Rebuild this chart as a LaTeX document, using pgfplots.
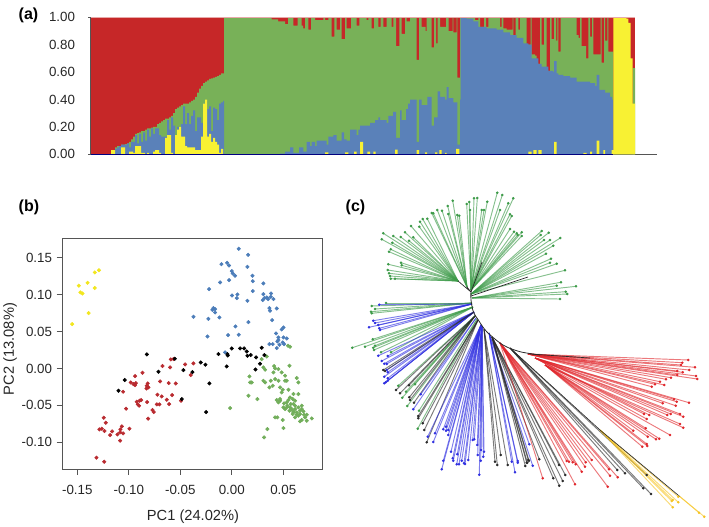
\documentclass[border=0pt]{standalone}
\usepackage{pgfplots}
\pgfplotsset{compat=1.18}
\usepackage{fontspec}
\setmainfont{Liberation Sans}
\definecolor{bred}{HTML}{C62728}
\definecolor{bgreen}{HTML}{78B158}
\definecolor{bblue}{HTML}{5A81B9}
\definecolor{byellow}{HTML}{F8F133}
\definecolor{dred}{HTML}{B92B30}
\definecolor{dgreen}{HTML}{72AE5B}
\definecolor{dblue}{HTML}{4C7DB9}
\definecolor{dyellow}{HTML}{F2E61E}
\definecolor{tgreen}{HTML}{3C9A48}
\definecolor{tblue}{HTML}{3030E0}
\definecolor{tred}{HTML}{E0262B}
\definecolor{tblack}{HTML}{2A2A2A}
\definecolor{tyellow}{HTML}{F6C422}
\definecolor{axgrey}{HTML}{555555}
\newcommand{\fan}[4]{%
  \addplot[draw=#1, line width=.7pt, draw opacity=.62, quiver={u={#2-x},v={#3-y}}] coordinates {#4};
  \addplot[only marks, mark=*, mark size=.75pt, color=#1] coordinates {#4};
}
\begin{document}
\begin{tikzpicture}
\path[use as bounding box] (0,0) rectangle (531.75pt,395.25pt);
% ---------- (a)
\begin{axis}[
  at={(68.25pt,279.5pt)}, anchor=south west, scale only axis,
  width=424.5pt, height=102.75pt,
  xmin=91, xmax=657, ymin=0, ymax=1,
  axis x line=bottom, axis y line=left,
  axis line style={-, color=axgrey, line width=.9pt},
  xtick=\empty,
  ytick={0,0.2,0.4,0.6,0.8,1},
  yticklabels={0.00,0.20,0.40,0.60,0.80,1.00},
  major tick length=0pt, yticklabel style={font=\fontsize{10}{12}\selectfont, text=black!85, xshift=-8.5pt},
  extra y ticks={0,1}, extra y tick labels={},
  extra tick style={major tick length=4.5pt, tick style={color=axgrey, line width=.9pt}},
  clip=false, axis on top=false,
]
\addplot[fill=bred, draw=none] coordinates {(91,1)(635,1)} \closedcycle;
\addplot[const plot mark left, fill=bgreen, draw=none] coordinates {
(91,0)(111,.01)(113,.03)(115,.05)(117,.06)(121,.07)(125,.075)(127,.08)(129,.09)(131,.11)(133,.13)(135,.15)(137,.155)(139,.16)(141,.17)(145,.18)(147,.19)(151,.195)(153,.20)(157,.22)(159,.23)(161,.24)(163,.25)(165,.26)(169,.27)(171,.28)(173,.30)(175,.33)(177,.34)(179,.35)(181,.36)(183,.37)(189,.38)(191,.39)(193,.40)(195,.42)(197,.45)(199,.48)(201,.50)(203,.52)(205,.53)(207,.54)(209,.55)(211,.555)(213,.56)(215,.565)(217,.57)(219,.58)(221,.59)
(224,1)(271.7,.985)(278,.97)(285,.95)(288,1)(293.3,.94)(297.7,1)(301.7,.94)(303,.92)(305,1)(308.3,.91)(311,1)(315,.98)(323.3,1)(325,.98)(328.3,1)(331.7,.86)(334.3,1)(336.7,.91)(340,1)(341.7,.84)(345,1)(346.7,.92)(351,1)(356.7,.94)(359.3,1)(366.7,.98)(368.3,1)(371.7,.92)(374,1)(378.3,.93)(380.7,1)(383.3,.93)(386.7,1)(391.7,.93)(393.3,1)(396,.79)(399.3,1)(401.7,.88)(405,1)(406.7,.97)(410,1)(416.7,.69)(419,1)(421.7,.93)(425.7,.90)(426.7,1)(431.7,.78)(434,1)(436,.81)(437.7,1)(440,.93)(446,1)(448.7,.90)(452.7,1)(453.3,.89)(456.7,1)(457.3,.56)(460,1)
(475,.98)(478.3,1)(480,.93)(484,1)(486,.93)(488.3,1)(500,.93)(501.7,1)(503.3,.92)(506.7,.91)(512.7,1)(513.3,.87)(515.7,1)(518.3,.91)(520,1)(526.7,.80)(530.7,1)(531.7,.73)(535,.72)(536.7,.66)(540,1)(541.7,.80)(544,1)(546.7,.61)(550,1)(551.7,.84)(554,1)(556,.83)(557.3,1)(558.3,.75)(560.7,1)(576.7,.87)(578.5,.85)(580,1)(581.7,.79)(586,.70)(588.3,1)(590,.86)(592,1)(593.3,.73)(600.7,1)(601.7,.67)(604,1)(605,.83)(607.3,1)(608.3,.75)(613.3,0)(632.7,.63)(635,.63)
} \closedcycle;
\addplot[const plot mark left, fill=bblue, draw=none] coordinates {
(91,0)(111,.01)(113,.03)(115,.04)(117,.05)(119,.06)(121,.07)(127,.08)(129,.05)(131,.09)(135,.14)(137,.08)(139,.15)(141,.09)(143,.16)(145,.10)(147,.18)(149,.13)(151,.19)(153,.15)(155,.19)(159,.14)(161,.13)(167,.25)(169,.18)(171,.27)(173,.21)(175,.14)(177,.20)(181,.22)(183,.35)(185,.22)(187,.30)(189,.22)(191,.28)(193,.32)(195,.17)(197,.27)(201,.23)(203,.37)(205,.39)(207,.33)(209,.35)(211,.17)(213,.34)(215,.33)(217,.25)(219,.37)(221,.38)(223,.39)
(224,0)(280,.005)(285,.02)(290,.05)(293.3,.01)(299,.05)(303.3,.02)(306.7,.09)(310,.06)(311.7,.09)(315,.06)(316.7,.10)(326.7,.07)(328.3,.13)(333.3,.14)(336.7,.10)(341.7,.16)(344,.11)(346.7,.10)(350,.18)(356.7,.14)(358.3,.18)(360,.21)(370,.23)(375,.25)(378.3,.27)(380,.25)(386.7,.23)(388.3,.28)(393,.31)(396,.12)(400,.32)(401.7,.25)(406,.33)(408,.37)(410,.40)(416.7,.09)(419,.40)(421.7,.36)(427.3,.42)(431.7,.21)(434,.27)(437.7,.46)(440,.42)(445,.40)(446.7,.49)(448.7,.41)(453.3,.38)(457.3,.07)(460,.40)
(460.7,1)(466.7,.99)(473.3,.97)(478.3,.93)(486.7,.92)(496.7,.91)(503.3,.89)(510,.87)(516.7,.85)(523.3,.81)(528.3,.80)(531.7,.70)(538.3,.66)(541.7,.64)(548.3,.61)(553.3,.60)(554,.68)(556.7,.59)(558.3,.58)(563.3,.57)(570,.56)(576.7,.53)(590,.52)(595,.50)(596.7,.58)(599.3,.47)(605,.45)(610,.42)(612,.40)(613.3,0)(635,0)
} \closedcycle;
\addplot[const plot mark left, fill=byellow, draw=none] coordinates {
(91,0)(111,.03)(115,0)(121,.05)(125,0)(129,.02)(133,.01)(135,.06)(141,.01)(145,0)(147,.01)(149,0)(153,.02)(155,.03)(159,.01)(161,0)(165,.12)(167,.14)(171,.01)(173,0)(175,.14)(177,.18)(179,.20)(181,.13)(185,.06)(187,.05)(195,.03)(201,.13)(203,.37)(205,.40)(207,.13)(209,.15)(211,.09)(213,.12)(215,.09)(217,.07)(219,.01)(221,.04)(223,0)
(325,.015)(328.3,0)(345,.015)(348.3,0)(354,.02)(356.7,0)(360,.09)(363,0)(367.3,.02)(370,0)(373.3,.02)(375.7,0)(395,.035)(397.7,0)(416.7,.03)(419,0)(425,.015)(427,0)(435,.015)(437.3,0)(439.3,.03)(441.7,0)(445,.01)(446.7,0)(456,.04)(459.3,0)
(528.3,.02)(531.7,0)(533.3,.03)(536.7,0)(538.3,.03)(541.7,0)(554,.09)(556.7,0)(583.3,.01)(586.7,0)(590,.02)(592,0)(596.7,.10)(599.3,0)(603.3,.03)(605,0)(611.7,.03)(613.3,1)(626.3,.99)(628.3,.96)(630.7,.70)(632.7,.37)(635,.37)
} \closedcycle;
\addplot[draw=white!60!bred, line width=.3pt] coordinates {(91,1)(635,1)};
\addplot[draw=blue!50!black, line width=.8pt] coordinates {(91,0)(613,0)};
\end{axis}
% ---------- (b)
\begin{axis}[
  at={(46.7pt,43.3pt)}, anchor=south west, scale only axis,
  width=195pt, height=173.25pt,
  xmin=-0.1646, xmax=0.0879, ymin=-0.1366, ymax=0.1763,
  xtick={-0.15,-0.10,-0.05,0,0.05}, xticklabels={-0.15,-0.10,-0.05,0.00,0.05},
  ytick={-0.10,-0.05,0,0.05,0.10,0.15}, yticklabels={-0.10,-0.05,0.00,0.05,0.10,0.15},
  tick align=outside, tick pos=left, major tick length=4.2pt,
  axis line style={color=axgrey, line width=.7pt},
  tick style={color=axgrey, line width=.6pt},
  ticklabel style={font=\fontsize{10}{12}\selectfont, text=black!85},
  xticklabel style={yshift=-4.5pt},
]
\addplot[only marks, mark=*, mark size=1.3pt, color=dyellow] coordinates {
(-.129,.133)(-.133,.130)(-.1485,.112)(-.140,.116)(-.133,.109)(-.147,.103)(-.145,.1015)(-.139,.075)(-.155,.060)};
\addplot[only marks, mark=*, mark size=1.3pt, color=dblue] coordinates {
(.0068,.162)(.0159,.1539)(-.0100,.1412)(-.0045,.1430)(-.0026,.1394)(.0152,.1376)(0,.1318)(.001,.1286)(.0032,.1255)(.0201,.1255)(-.0113,.1164)(-.0026,.1196)(.0204,.1182)(.0307,.1151)(-.022,.1074)(.0204,.1047)(.0003,.0988)(.0055,.1002)(.0049,.0952)(.0307,.1006)(.0152,.0916)(.0317,.0952)(.034,.0961)(.0382,.1015)(.0353,.0939)(.0379,.097)(.0405,.0939)(.0301,.0925)(-.0178,.0817)(-.0162,.0803)(-.0188,.0794)(-.0162,.0758)(.0366,.0817)(.0372,.0781)(.0437,.0812)(-.0372,.0699)(-.0227,.0672)(-.012,.069)(.0392,.0654)(.0162,.0627)(.0036,.0569)(.0502,.0555)(.0485,.0528)(.043,.0474)(-.0036,.0451)(.0068,.0456)(-.0236,.0433)(.0453,.042)(.0502,.042)(.0453,.0384)(.0534,.0406)(.0443,.0366)(.0495,.0352)(.0366,.0329)(.0398,.0329)(.0463,.032)(.0508,.0329)(.0437,.0275)(-.0065,.0217)};
\addplot[only marks, mark=*, mark size=1.3pt, color=dgreen] coordinates {
(.0547,.0307)(.0566,.0293)(.034,.0162)(.0291,.0126)(.0307,.0014)(.0324,-.0018)(.0411,.0032)(.0421,0)(.0453,-.0009)(.056,.0036)(.0405,-.0054)(.0485,-.0054)(.0518,-.0099)(.0631,-.0131)(.0172,-.0108)(.0178,-.019)(.0194,-.019)(.0307,-.0167)(.0324,-.019)(.0379,-.0167)(.0421,-.0144)(.0453,-.0167)(.0518,-.0167)(.0534,-.0167)(.0647,-.019)(.0366,-.0257)(.0398,-.0235)(.0469,-.0257)(.0495,-.0289)(.055,-.0289)(.0162,-.037)(.0249,-.0415)(.0485,-.0325)(.0599,-.0347)(.0647,-.0347)(.0566,-.0393)(.0592,-.0415)(.055,-.0429)(.0615,-.0438)(.0437,-.0429)(.0469,-.0438)(.0508,-.0474)(.0534,-.046)(.0573,-.0483)(.0599,-.0483)(.0615,-.0505)(.068,-.0505)(.0502,-.0528)(.0518,-.0551)(.0534,-.0528)(.0583,-.0551)(.0615,-.0551)(.0647,-.0528)(.068,-.0551)(.0599,-.0582)(.0631,-.0596)(.0663,-.0573)(.0696,-.0582)(.0728,-.0627)(.0777,-.0677)(.0712,-.0663)(.068,-.0699)(.0663,-.0717)(.0631,-.0627)(.0615,-.0663)(.0599,-.0596)(.0647,-.0641)(.0421,-.0663)(.0443,-.0663)(.0495,-.0699)(.0502,-.0808)(.0346,-.0821)(.0314,-.0934)(-.0016,-.0537)(.0469,-.0415)(.0453,-.046)(.054,-.0505)(.0566,-.0528)(.056,-.0573)(.0592,-.0618)(.0663,-.0618)(.0702,-.0627)(.0728,-.0708)};
\addplot[only marks, mark=*, mark size=1.3pt, color=dred] coordinates {
(-.0592,.0122)(-.0566,.0126)(-.0673,.0032)(-.0599,.0014)(-.0453,.0054)(-.0372,.0068)(-.0398,-.009)(-.0867,-.0059)(-.0939,-.0104)(-.0981,-.019)(-.0955,-.0212)(-.0932,-.0199)(-.0939,-.0226)(-.1055,-.0316)(-.0816,-.0203)(-.0825,-.0235)(-.0809,-.0257)(-.0828,-.0271)(-.0696,-.0176)(-.0612,-.0199)(-.0544,-.0203)(-.0722,-.0356)(-.068,-.0379)(-.0579,-.0361)(-.0631,-.0424)(-.0702,-.0487)(-.0728,-.0487)(-.0822,-.0456)(-.088,-.0429)(-.0896,-.0438)(-.0922,-.0451)(-.0913,-.0487)(-.09,-.0505)(-.0608,-.0483)(-.0492,-.0438)(-.1026,-.0546)(-.077,-.0564)(-.0757,-.0591)(-.0812,-.0681)(-.1243,-.0668)(-.1223,-.0736)(-.1285,-.0826)(-.1262,-.0817)(-.1236,-.0848)(-.1162,-.0853)(-.1181,-.0903)(-.1068,-.0785)(-.1081,-.0826)(-.111,-.0894)(-.1084,-.0866)(-.1055,-.088)(-.0994,-.0817)(-.1084,-.0979)(-.1314,-.1209)(-.1239,-.1264)};
\addplot[only marks, mark=*, mark size=1.3pt, color=black] coordinates {
(-.0825,.019)(-.0553,.0131)(-.0301,.0081)(-.0256,.005)(-.0469,-.0023)(-.0382,-.005)(-.0712,-.0045)(-.1039,-.0158)(-.11,-.0302)(-.0217,-.0203)(-.0485,-.0415)(-.0249,-.0591)(-.0129,.0194)(-.0042,.0194)(-.0039,.0176)(-.0049,.0027)(0,.0271)(.0081,.0271)(.012,.0271)(.0146,.023)(.0152,.0171)(.0184,.0181)(.0236,.0149)(.0291,.028)(.0317,.0181)(.0275,.0063)(.023,-.0014)};
\end{axis}
% ---------- (c)
\begin{axis}[
  at={(0pt,0pt)}, anchor=south west, scale only axis,
  width=531.75pt, height=395.25pt,
  xmin=0, xmax=709, ymin=0, ymax=527, y dir=reverse, hide axis, clip=false,
]
\fan{tgreen}{458}{281}{(383.3,233.3)(381.7,239.3)(393.3,236)(400.7,237)(392.3,242.7)(390.7,249.3)(389,251.7)(405,232.3)(411,226)(409,240.7)(413.3,237.3)(419.3,226.7)(420,221.7)(422.7,219)(427.3,218.7)(388.3,264.3)(401,262.7)(401.7,265.3)(387.7,270)(389,273.3)(390,276)(390.7,278.7)(395,278.7)}
\fan{tgreen}{467}{287}{(431.7,213)(433.3,213.3)(437.3,210)(442,210.7)(448.3,214)(447.7,206)(452.7,200.7)(457.3,215)(459.3,215.7)}
\fan{tgreen}{471}{290}{(466.7,204)(469.3,202)(470,210)(474,198.3)(477.3,198)(481.7,210)(484,210)(487.3,201.7)(497.3,192.7)(500,210)(502.3,195)(508.3,203.3)(510,214.3)(513.3,198.3)(511.7,216)(510,229)(514,231.7)(516.7,233.3)(517.7,235)(521.7,232.3)(521.7,236)}
\fan{tgreen}{471}{294}{(541.7,231)(540.7,235)(548.7,232.7)(544,240)(550,240)(560.3,238)(553.3,245.7)(546,253.7)(551,258.7)(550,262.7)(556.7,263.7)(565,270.3)}
\fan{tgreen}{472}{298}{(561,282.3)(576,286.3)(556.7,285.7)(565.7,291.7)(567.3,294)(560,299)}
\fan{tgreen}{472}{303}{(386,303)(371.7,306)(375,309)(371,311.7)(371.7,313.3)}
\fan{tblue}{472}{304}{(379.3,304.7)(373.3,320.7)(375,323)(369,327.3)(378.3,325)(379.3,328.3)(380,330)}
\fan{tgreen}{473}{307}{(372.7,339.3)(352.3,347.7)(365,346.7)(375,345.7)(374,350)(373.3,347.7)(381,352.3)(391,352.3)}
\fan{tblue}{474}{312}{(378.3,355.7)(387.7,356)(381.7,361)(386.7,364)(384.3,363.7)(386.7,370)(387.7,372.3)(384.3,376.7)(387.7,378.3)(387.7,380.7)(384.3,383.3)(385.7,382.3)}
\fan{tblack}{474}{312}{(383.3,370)(385,371)}
\fan{tgreen}{475}{316}{(398.3,385.7)(402.3,397.7)(406,391.7)(415,384.3)(407.3,406)}
\fan{tblack}{475}{316}{(396,390)(400,393.3)(409,385.3)(409.3,397.3)(410,400)(414,402.7)}
\fan{tblue}{476}{318}{(420.7,394.3)(413.3,409.3)}
\fan{tgreen}{477}{319}{(419,410.7)(417.7,428.7)}
\fan{tblack}{478}{320}{(418.3,416)(418.3,418.3)(422.7,423.3)(424.3,430)(426.7,442.3)}
\fan{tblue}{481}{325}{(427.7,436.7)(433.3,442)(435,433.3)(443.3,429.3)(446,426.7)(446,430.7)(448.3,430)(448.3,435)(451,451.7)(441.7,469.3)(443.3,460.7)(452.7,458.3)(453.3,460.7)(456.7,464.3)(459,464.3)(457.3,454.3)}
\fan{tblue}{482}{326}{(461.7,460.7)(464,463.3)(465,464)(468.3,460)(472.7,440)(474.3,439.3)(477.3,445)(477.7,455)(479.3,474.7)(481,450)(483.3,456.7)(484,451.7)(480.7,460.7)}
\fan{tblack}{484}{329}{(495,461.7)(497.3,465)(500.7,455)(507.7,465)}
\fan{tblue}{489}{333}{(511.7,461.7)(515,472.3)(517.7,462.7)(517.7,461)(529.3,444.3)(532.7,465.7)}
\fan{tblack}{492}{337}{(525.3,466)(526.7,462.7)(529,460.7)(527.3,462.7)(528.3,460)(539.3,459.3)(553.3,478.3)(559,465)(559.3,485.7)(562.7,481)(565.3,475)}
\fan{tred}{500}{343}{(542.7,478.3)(575,484.3)(566.7,461)(569,461.7)(572.7,462.3)(575.7,464.3)(581.7,471.7)(585,466.7)(585.7,462.3)(591.7,460)(607.7,486.7)(610,475.7)(609,469.3)(617.7,477.3)}
\fan{tblack}{510}{348}{(617.3,470)(625,473.3)(643.3,488.3)(651,494)(646.7,475)}
\fan{tyellow}{600}{430}{(672.7,500)(678.3,496.7)(678.3,502.3)(671.7,501)(672.7,507.3)}
\fan{tyellow}{680}{496.7}{(699,512.7)(704.3,516.7)}
\fan{tred}{528}{354}{(688.3,360)(682.3,362.7)(681,365)(695,367.3)(689.3,370)(682.7,372.3)(677.3,371)(677.3,375)(671,377.7)(666,379.3)(660,381.7)(655,384.3)(651.7,386.7)(664.3,385)(696,376)(697.3,379)}
\fan{tred}{535}{358}{(689,402.7)(674,399.3)(676.7,401.7)(662.7,403.3)(675.7,405.7)(680,414)(683.3,416.7)(670.7,414)(667.3,415)(644,414)(649.3,415)(646.7,419)}
\fan{tred}{545}{365}{(680,424)(683.3,427.7)(645.7,428.3)(633.3,430.7)(647.7,436.7)(670,435)(659.3,438.7)(656,439.3)(646.7,444)(647.3,446)(642.3,446.7)}
\addplot[tblack, line width=.6pt, smooth] coordinates {(471,290)(471,300)(473.3,311.7)(478.3,320)(486.7,331.7)(503,345)(520,351.7)(540,355)};
\addplot[tblack, line width=.5pt] coordinates {(458,281)(471,292)(467,287)};
\addplot[tblack, line width=.5pt] coordinates {(471,296)(528,277)};
\addplot[tblack, line width=.5pt] coordinates {(471,292)(482,262)};
\addplot[tblack, line width=.5pt] coordinates {(530,354)(590,358)};
\addplot[tblack, line width=.5pt] coordinates {(510,348)(600,430)(680,496.7)};
\end{axis}
\node[anchor=west, font=\fontsize{12}{14}\selectfont\bfseries] at ({14*.75pt},{(527-15)*.75pt}) {(a)};
\node[anchor=west, font=\fontsize{12}{14}\selectfont\bfseries] at ({14*.75pt},{(527-207)*.75pt}) {(b)};
\node[anchor=west, font=\fontsize{12}{14}\selectfont\bfseries] at ({341*.75pt},{(527-207)*.75pt}) {(c)};
\node[font=\fontsize{11}{13}\selectfont, text=black!85] at ({193*.75pt},{(527-517)*.75pt}) {PC1 (24.02\%)};
\node[font=\fontsize{11}{13}\selectfont, text=black!85, rotate=90] at ({10*.75pt},{(527-349)*.75pt}) {PC2 (13.08\%)};
\end{tikzpicture}
\end{document}
